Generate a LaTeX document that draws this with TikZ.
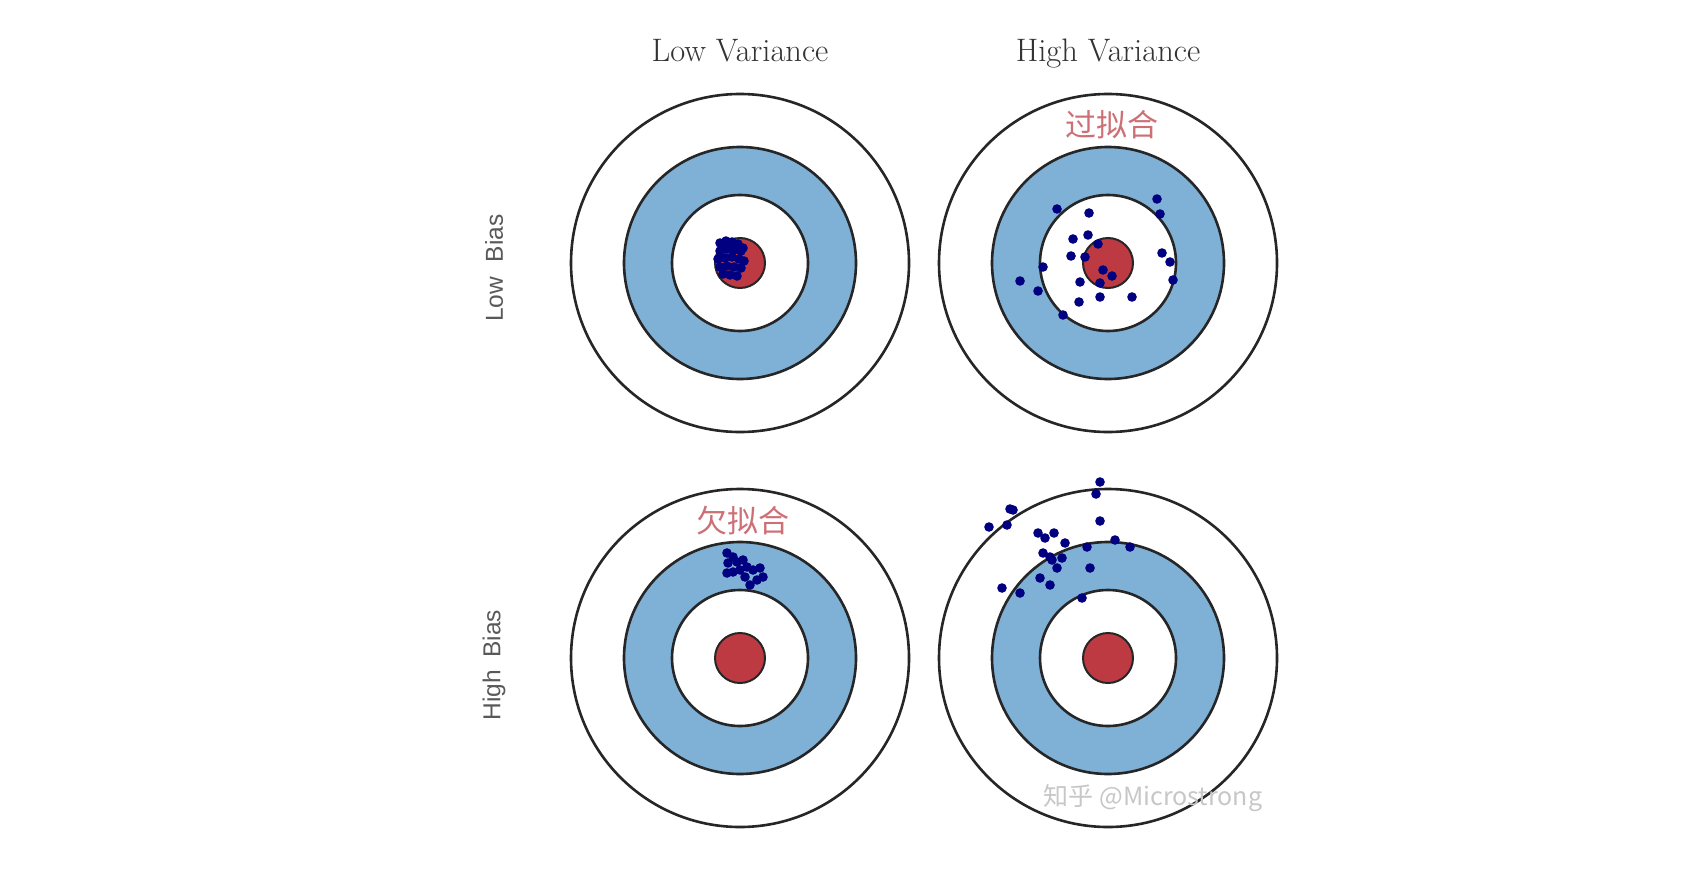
\documentclass[tikz,border=0pt]{standalone}
\usepackage{fontspec}
\newfontfamily\cjk{Noto Sans CJK SC}
\newfontfamily\biasfont{Liberation Sans}

\definecolor{ringblue}{RGB}{127,176,214}
\definecolor{bullred}{RGB}{190,58,66}
\definecolor{dotblue}{RGB}{0,0,128}
\definecolor{fitred}{RGB}{205,112,118}

\begin{document}
\begin{tikzpicture}[x=1pt,y=-1pt,
  ring/.style={draw=black!85,line width=2.6pt},
  head/.style={font=\fontsize{32.5}{38}\selectfont,text=black!80,anchor=base},
  bias/.style={font=\biasfont\fontsize{24.5}{29}\selectfont,text=black!65,rotate=90},
  fit/.style={font=\cjk\fontsize{31}{36}\selectfont,text=fitred},
  shot/.style={fill=dotblue}]
\useasboundingbox (0,0) rectangle (1702,894);
\fill[white] (0,0) rectangle (1702,894);

\coordinate (tl) at (740,263);
\coordinate (tr) at (1108,263);
\coordinate (bl) at (740,658);
\coordinate (br) at (1108,658);

\node[head] (lowvar) at (740,61) {Low Variance};
\node[head] (highvar) at (1108,61) {High Variance};
\node[bias] (lowbias) at (494,268) {Low\hspace{0.6em}Bias};
\node[bias] (highbias) at (494,665) {High\hspace{0.5em}Bias};

% the four targets
\foreach \t in {tl,tr,bl,br} {
  \draw[ring,fill=white] (\t) circle[radius=169pt];
  \draw[ring,fill=ringblue] (\t) circle[radius=116pt];
  \draw[ring,fill=white] (\t) circle[radius=68pt];
  \draw[ring,line width=2pt,fill=bullred] (\t) circle[radius=25pt];
}

\node[fit] (over) at (1112,125) {过拟合};
\node[fit] (under) at (743,521) {欠拟合};

% shots
\begin{scope}[shift={(tl)}]
\foreach \x/\y in {-20/-20,-14/-22,-8/-21,-2/-19,3/-15,-16/-17,-20/-12,-13/-14,-6/-13,1/-12,
  -22/-4,-15/-5,-8/-6,-1/-4,4/-2,-20/4,-13/3,-6/4,1/5,-17/11,-10/12,-3/13}
  \fill[shot] (\x,\y) circle[radius=4.8pt];
\end{scope}
\begin{scope}[shift={(tr)}]
\foreach \x/\y in {49/-64,52/-49,-51/-54,-19/-50,-35/-24,-20/-28,-10/-19,-37/-7,-23/-6,54/-10,
  62/-1,65/17,-65/4,-88/18,-70/28,-28/19,-5/7,4/13,-8/20,-8/34,-29/39,24/34,-45/52}
  \fill[shot] (\x,\y) circle[radius=4.8pt];
\end{scope}
\begin{scope}[shift={(bl)}]
\foreach \x/\y in {-13/-105,-7/-101,-12/-95,-3/-96,3/-98,0/-88,7/-91,13/-88,20/-90,23/-81,
  17/-78,10/-73,-7/-86,-13/-85,5/-81}
  \fill[shot] (\x,\y) circle[radius=4.8pt];
\end{scope}
\begin{scope}[shift={(br)}]
\foreach \x/\y in {-8/-176,-12/-164,-8/-137,-98/-149,-95/-148,-101/-133,-119/-131,-70/-125,
  -63/-120,-54/-125,-43/-115,-21/-111,7/-118,22/-111,-65/-105,-58/-101,-46/-100,-56/-98,
  -51/-90,-18/-90,-68/-80,-58/-73,-106/-70,-88/-65,-26/-60}
  \fill[shot] (\x,\y) circle[radius=4.8pt];
\end{scope}

\node[font=\cjk\fontsize{25}{29}\selectfont,text=black!22] (mark) at (1153,798) {知乎 @Microstrong};
\end{tikzpicture}
\end{document}
